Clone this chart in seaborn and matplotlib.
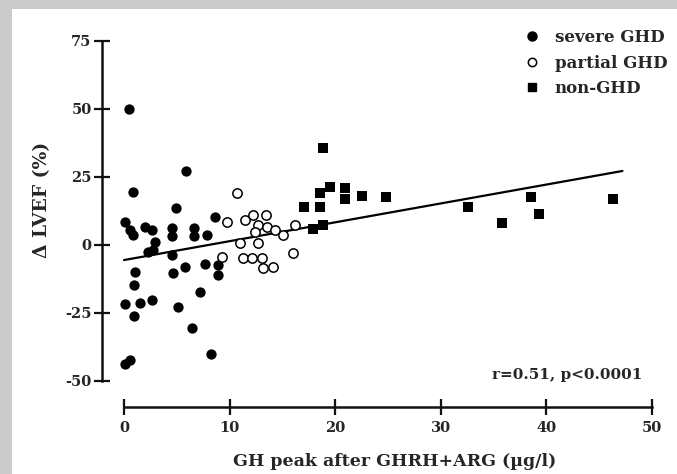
import matplotlib
matplotlib.use("Agg")
import matplotlib.pyplot as plt
import seaborn as sns
import numpy as np
import pandas as pd
from matplotlib.patches import Rectangle
from matplotlib.lines import Line2D

# ---------------- data ----------------
severe_x = [0.47, 0.85, 5.9, 4.9, 8.6, 4.5, 4.5, 6.6, 6.6, 7.9, 4.5,
            0.1, 0.6, 0.85, 2.0, 2.65, 2.9, 2.75, 2.3,
            1.0, 0.95, 0.1, 1.5, 2.65, 0.95, 5.1, 7.2, 5.8, 4.6, 7.7,
            8.9, 8.9, 6.4, 8.2, 0.1, 0.6]
severe_y = [50.0, 19.4, 27.1, 13.5, 10.2, 6.2, 3.2, 6.2, 3.2, 3.6, -3.8,
            8.4, 5.4, 3.6, 6.5, 5.4, 1.0, -1.9, -2.6,
            -10.0, -14.8, -21.7, -21.4, -20.3, -26.2, -22.8, -17.3, -8.3, -10.5, -7.1,
            -7.5, -11.2, -30.5, -40.1, -43.8, -42.3]

partial_x = [10.7, 9.75, 11.5, 12.2, 13.4, 12.7, 13.5, 14.3, 15.1, 16.2,
             12.4, 12.7, 11.0, 16.0, 11.3, 12.1, 13.1, 9.3, 13.2, 14.1]
partial_y = [19.0, 8.4, 9.1, 10.9, 10.9, 7.3, 6.5, 5.4, 3.6, 7.3,
             4.7, 0.7, 0.7, -3.0, -4.8, -4.8, -4.8, -4.5, -8.5, -8.2]

nonghd_x = [18.8, 17.0, 18.6, 18.6, 19.5, 20.9, 20.9, 22.5, 24.8,
            32.6, 35.8, 38.5, 39.3, 46.3, 17.9, 18.8]
nonghd_y = [35.5, 13.9, 13.9, 19.0, 21.2, 20.9, 16.8, 17.9, 17.5,
            13.9, 8.0, 17.5, 11.3, 16.8, 5.8, 7.3]

fit_x = [0.0, 47.2]
fit_y = [-5.6, 27.1]

group_labels = ["severe GHD", "partial GHD", "non-GHD"]
x_ticks = [0, 10, 20, 30, 40, 50]
y_ticks = [-50, -25, 0, 25, 50, 75]
x_label = "GH peak after GHRH+ARG (\u00b5g/l)"
y_label = "\u0394 LVEF (%)"
stat_text = "r=0.51, p<0.0001"

# ---------------- figure ----------------
sns.set_style("white")
FONT = ["DejaVu Serif", "Liberation Serif"]
plt.rcParams["font.family"] = FONT
plt.rcParams["font.weight"] = "bold"

W, H = 677, 474
fig = plt.figure(figsize=(W / 100, H / 100), dpi=100)
fig.patch.set_facecolor("#cbcbcb")
bg = Rectangle((12 / W, 0), 1, (H - 9) / H, transform=fig.transFigure,
               facecolor="white", edgecolor="none", zorder=-10)
fig.patches.append(bg)

# axes calibration (pixels of the reference)
x0px, x50px = 124, 652
ppx = (x50px - x0px) / 50.0
y75, ym50 = 40.5, 381
ppy = (ym50 - y75) / 125.0
left_px = 102
xmin = -(x0px - left_px) / ppx
xmax = 50.3
xaxis_py = 406.5
ymin = -50 - (xaxis_py - ym50) / ppy
ymax = 76.0
right_px = x0px + xmax * ppx
top_py = y75 - (ymax - 75) * ppy

ax = fig.add_axes([left_px / W, (H - xaxis_py) / H, (right_px - left_px) / W,
                   (xaxis_py - top_py) / H])
ax.set_facecolor("none")
ax.set_zorder(1)

df_s = pd.DataFrame({"x": severe_x, "y": severe_y})
df_p = pd.DataFrame({"x": partial_x, "y": partial_y})
df_n = pd.DataFrame({"x": nonghd_x, "y": nonghd_y})
df_f = pd.DataFrame({"x": fit_x, "y": fit_y})

sns.lineplot(data=df_f, x="x", y="y", ax=ax, color="black", linewidth=1.6, zorder=2)
sns.scatterplot(data=df_s, x="x", y="y", ax=ax, marker="o", s=55, color="black",
                edgecolor="black", linewidth=0, zorder=3)
sns.scatterplot(data=df_p, x="x", y="y", ax=ax, marker="o", s=45, facecolor="white",
                edgecolor="black", linewidth=1.1, zorder=4)
sns.scatterplot(data=df_n, x="x", y="y", ax=ax, marker="s", s=44, color="black",
                edgecolor="black", linewidth=0, zorder=3)

ax.set_xlim(xmin, xmax)
ax.set_ylim(ymin, ymax)
ax.set_xticks(x_ticks)
ax.set_yticks(y_ticks)
ax.set_xticklabels([str(t) for t in x_ticks], fontsize=10.5, fontweight="bold")
ax.set_yticklabels([str(t) for t in y_ticks], fontsize=10.5, fontweight="bold")

for s in ["top", "right"]:
    ax.spines[s].set_visible(False)
ax.spines["left"].set_bounds(-50, 75)
ax.spines["bottom"].set_bounds(0, 50)
for s in ["left", "bottom"]:
    ax.spines[s].set_linewidth(1.8)
    ax.spines[s].set_color("#111111")
ax.tick_params(axis="both", which="major", bottom=True, left=True, direction="inout",
               length=11, width=1.6, color="#111111")
ax.tick_params(axis="y", pad=2)
ax.tick_params(axis="x", pad=5)

ax.set_xlabel(x_label, fontsize=12.5, fontweight="bold")
ax.set_ylabel(y_label, fontsize=13.5, fontweight="bold")
ax.xaxis.set_label_coords((395 - left_px) / (right_px - left_px),
                          (xaxis_py - 462) / (xaxis_py - top_py))
ax.yaxis.set_label_coords((42 - left_px) / (right_px - left_px),
                          (xaxis_py - 200) / (xaxis_py - top_py))
ax.xaxis.label.set_va("center")
ax.yaxis.label.set_va("center")

handles = [
    Line2D([], [], linestyle="none", marker="o", markersize=6.5, markerfacecolor="black",
           markeredgecolor="black"),
    Line2D([], [], linestyle="none", marker="o", markersize=6, markerfacecolor="white",
           markeredgecolor="black", markeredgewidth=1.1),
    Line2D([], [], linestyle="none", marker="s", markersize=6, markerfacecolor="black",
           markeredgecolor="black"),
]
leg = ax.legend(handles, group_labels, loc="upper left",
                bbox_to_anchor=(524 / W, 1 - 29 / H), bbox_transform=fig.transFigure,
                frameon=False, borderpad=0, borderaxespad=0, handlelength=1.0,
                handletextpad=0.85, labelspacing=0.52,
                prop={"family": FONT, "weight": "bold", "size": 12})

fig.text(642 / W, 1 - 375 / H, stat_text, ha="right", va="center", fontsize=11,
         fontweight="bold")

fig.savefig("out.png", dpi=100, facecolor=fig.get_facecolor())
